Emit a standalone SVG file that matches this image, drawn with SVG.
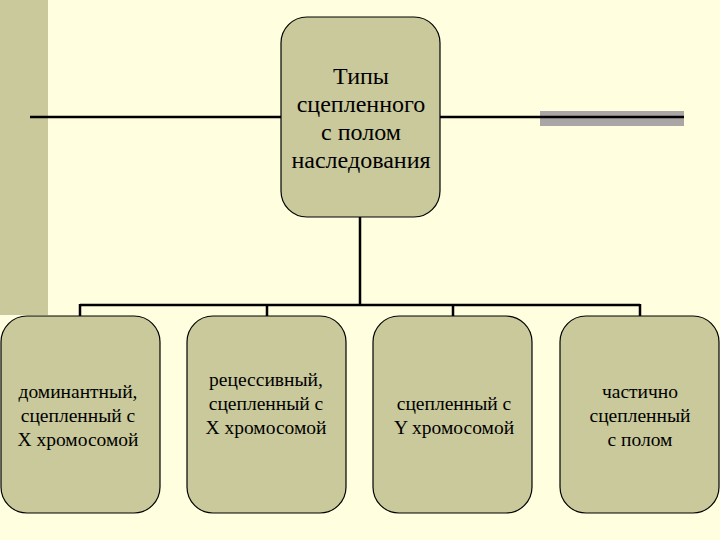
<svg xmlns="http://www.w3.org/2000/svg" width="720" height="540" viewBox="0 0 720 540">
<style>
.node{fill:#c9c99b;stroke:#000;stroke-width:1.2}
.ln{stroke:#000;stroke-width:2.5;fill:none}
</style>
<rect x="0" y="0" width="720" height="540" fill="#ffffe0"/>
<rect x="0" y="0" width="48" height="315" fill="#c9c99b"/>
<rect x="540" y="111" width="144" height="15" fill="#aaa6a6"/>
<g id="connectors">
<path class="ln" d="M30 117H281M440 117H684"/>
<path class="ln" d="M360 217V305M80 305H640M80 304V316M267 304V316M453 304V316M640 304V316"/>
</g>
<g id="root">
<rect class="node" x="281" y="17" width="159" height="200" rx="26"/>
<text font-family="Liberation Serif" font-size="24" text-anchor="middle" x="361" y="84">Типы</text>
<text font-family="Liberation Serif" font-size="24" text-anchor="middle" x="361" y="112">сцепленного</text>
<text font-family="Liberation Serif" font-size="24" text-anchor="middle" x="361" y="140">с полом</text>
<text font-family="Liberation Serif" font-size="24" text-anchor="middle" x="361" y="168">наследования</text>
</g>
<g id="n1">
<rect class="node" x="1" y="316" width="159" height="197" rx="26"/>
<text font-family="Liberation Serif" font-size="19.5" text-anchor="middle" x="78" y="398">доминантный,</text>
<text font-family="Liberation Serif" font-size="19.5" text-anchor="middle" x="78" y="422">сцепленный с</text>
<text font-family="Liberation Serif" font-size="19.5" text-anchor="middle" x="78" y="446">X хромосомой</text>
</g>
<g id="n2">
<rect class="node" x="187" y="316" width="159" height="197" rx="26"/>
<text font-family="Liberation Serif" font-size="19.5" text-anchor="middle" x="266" y="386">рецессивный,</text>
<text font-family="Liberation Serif" font-size="19.5" text-anchor="middle" x="266" y="410">сцепленный с</text>
<text font-family="Liberation Serif" font-size="19.5" text-anchor="middle" x="266" y="434">X хромосомой</text>
</g>
<g id="n3">
<rect class="node" x="373" y="316" width="159" height="197" rx="26"/>
<text font-family="Liberation Serif" font-size="19.5" text-anchor="middle" x="454" y="410">сцепленный с</text>
<text font-family="Liberation Serif" font-size="19.5" text-anchor="middle" x="454" y="434">Y хромосомой</text>
</g>
<g id="n4">
<rect class="node" x="560" y="316" width="159" height="197" rx="26"/>
<text font-family="Liberation Serif" font-size="19.5" text-anchor="middle" x="640" y="398">частично</text>
<text font-family="Liberation Serif" font-size="19.5" text-anchor="middle" x="640" y="422">сцепленный</text>
<text font-family="Liberation Serif" font-size="19.5" text-anchor="middle" x="640" y="446">с полом</text>
</g>
</svg>
